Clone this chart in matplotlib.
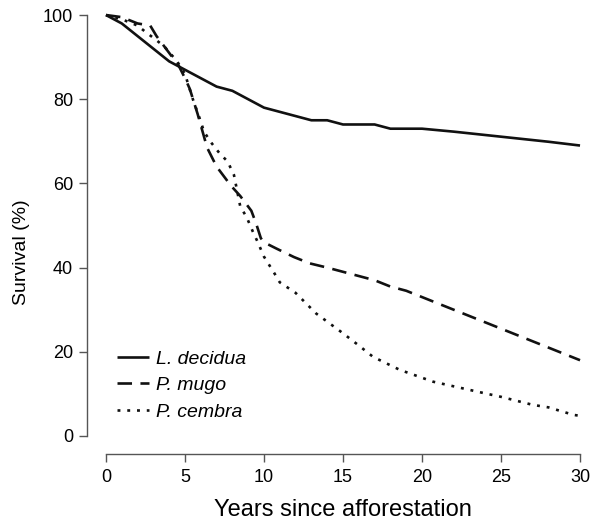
import matplotlib
matplotlib.use('Agg')
import matplotlib.pyplot as plt

plt.rcParams['font.family'] = ['Liberation Sans', 'DejaVu Sans']

# survival curves
years_ld = [0, 1, 2, 3, 4, 5, 6, 7, 8, 9, 10, 11, 12, 13, 14, 15, 16, 17, 18,
            19, 20, 22, 24, 26, 28, 30]
surv_ld = [100, 98, 95, 92, 89, 87, 85, 83, 82, 80, 78, 77, 76, 75, 75, 74, 74,
           74, 73, 73, 73, 72.3, 71.5, 70.7, 69.9, 69]

years_pm = [0, 1, 2, 2.8, 3.2, 4, 4.6, 5, 5.3, 5.8, 6.4, 7, 7.4, 7.9, 8.5, 8.9,
            9.2, 9.5, 9.8, 10, 10.8, 11.9, 12.9, 14, 15, 16, 17, 18, 19, 20, 21,
            22, 23, 24, 25, 26, 27, 28, 29, 30]
surv_pm = [100, 99.5, 98, 97.5, 95, 91, 88, 85, 82.5, 76.5, 68.5, 64, 62, 59.5,
           57, 55, 53.5, 50.5, 47, 46, 44.5, 42.5, 41, 40, 39, 38, 37, 35.5,
           34.5, 33, 31.5, 30, 28.5, 27, 25.5, 24, 22.5, 21, 19.5, 18]

years_pc = [0, 1, 2, 2.5, 3.2, 3.7, 4.5, 5, 5.5, 6, 6.2, 6.7, 7.2, 7.7, 8.1, 8.5,
            8.9, 9.3, 9.6, 10, 10.65, 11, 12, 13.3, 15, 16, 16.9, 18.6, 20.7, 22,
            23.9, 25, 27, 28, 29.6, 30]
surv_pc = [100, 99, 97.5, 96, 94, 92.5, 89, 86, 80, 74.7, 72.3, 69.5, 67.1, 65.2,
           62, 54.5, 52, 48.5, 46.1, 42.6, 38.7, 36.5, 34, 29.1, 24.4, 21.5,
           18.8, 15.7, 12.9, 11.8, 10.2, 9.3, 7.4, 6.8, 5, 4.8]

species = ['L. decidua', 'P. mugo', 'P. cembra']
xticks = [0, 5, 10, 15, 20, 25, 30]
yticks = [0, 20, 40, 60, 80, 100]

fig = plt.figure(figsize=(5.97, 5.20), dpi=100)
W, H = 597, 520
# pixel box of the plot region (R-style detached axes)
left, right, top, bottom = 87, 599, -1.8, 454
ax = fig.add_axes([left / W, 1 - bottom / H, (right - left) / W, (bottom - top) / H])

lc = '#111111'
lw = 1.9
l1, = ax.plot(years_ld, surv_ld, color=lc, lw=lw, solid_capstyle='butt')
l2, = ax.plot(years_pm, surv_pm, color=lc, lw=lw, dashes=(5.5, 3.2))
l3, = ax.plot(years_pc, surv_pc, color=lc, lw=lw, dashes=(1.1, 2.6))

ax.set_xlim(-1.2, 31.2)
ax.set_ylim(-4.28, 104)

for s in ['top', 'right']:
    ax.spines[s].set_visible(False)
axc = '#555555'
ax.spines['left'].set_bounds(0, 100)
ax.spines['bottom'].set_bounds(0, 30)
for s in ['left', 'bottom']:
    ax.spines[s].set_color(axc)
    ax.spines[s].set_linewidth(1.0)

ax.set_xticks(xticks)
ax.set_yticks(yticks)
ax.tick_params(axis='both', direction='out', length=5.5, width=1.0, color=axc,
               labelsize=13, pad=5)
ax.tick_params(axis='y', pad=4.5)

ax.set_xlabel('Years since afforestation', fontsize=17, labelpad=9.5)
ax.set_ylabel('Survival (%)', fontsize=14)
ax.yaxis.set_label_coords(-0.111, 0.443)

leg = ax.legend([l1, l2, l3], species, loc='upper left',
                bbox_to_anchor=(0.025, 0.266), frameon=False,
                handlelength=1.65, handletextpad=0.36, labelspacing=0.45,
                prop={'style': 'italic', 'size': 14})

fig.savefig('out.png', dpi=100)
